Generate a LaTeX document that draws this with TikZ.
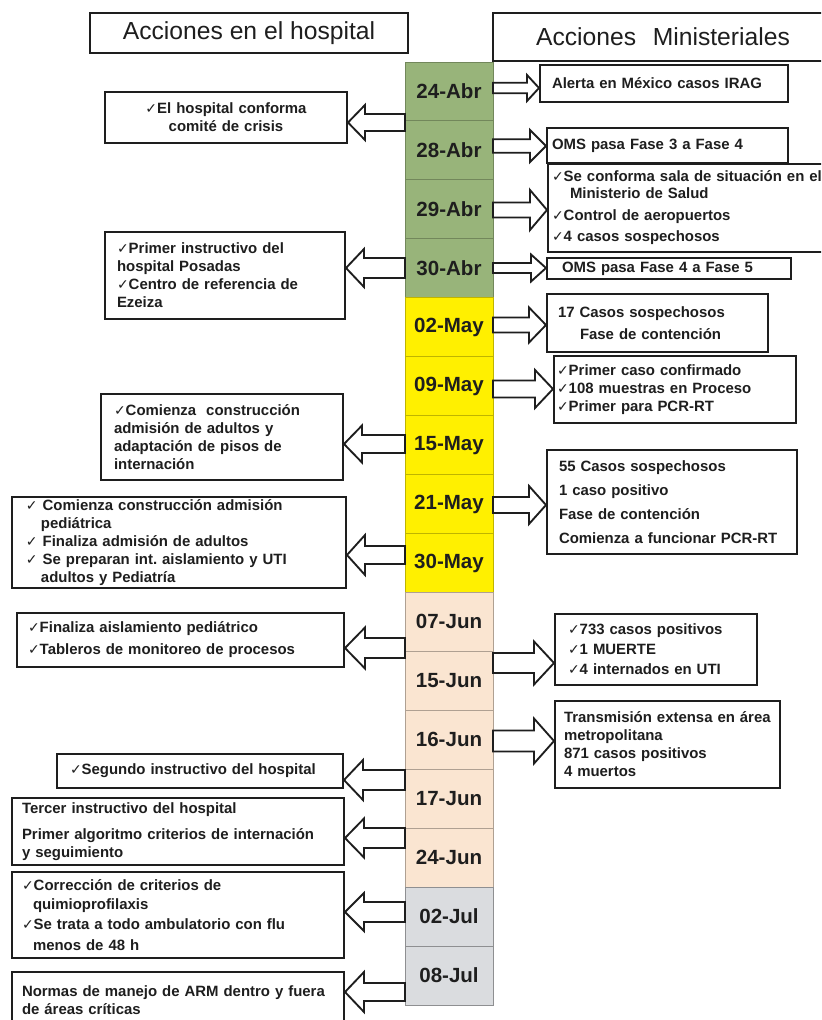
\documentclass[tikz,border=0pt]{standalone}
\usepackage{fontspec}
\setmainfont{Liberation Sans}
\newfontfamily\chkfont{DejaVu Sans}
\usetikzlibrary{calc}

\definecolor{abrgreen}{RGB}{152,180,122}
\definecolor{mayyellow}{RGB}{255,240,0}
\definecolor{junbeige}{RGB}{250,229,209}
\definecolor{julgray}{RGB}{218,220,223}
\definecolor{inkgray}{RGB}{30,30,30}

\newcommand{\ok}{{\chkfont\mdseries\fontsize{10.5}{13.5}\selectfont ✓}}

\begin{document}
\begin{tikzpicture}[x=0.75pt, y=-0.75pt,
 cell/.style={minimum width=66pt, minimum height=44.2pt, inner sep=0pt, outer sep=0pt, line width=0.75pt, text=inkgray, font=\fontsize{15.4}{18}\selectfont\bfseries},
 abril/.style={cell, fill=abrgreen, draw=abrgreen!75!black},
 mayo/.style={cell, fill=mayyellow, draw=mayyellow!75!black},
 junio/.style={cell, fill=junbeige, draw=junbeige!70!black},
 julio/.style={cell, fill=julgray, draw=julgray!65!black},
 head/.style={draw=inkgray, line width=1.5pt, inner sep=0pt, text=inkgray, font=\fontsize{18.5}{22}\selectfont},
 act/.style={draw=inkgray, line width=1.5pt, fill=white, inner ysep=0pt, align=left, text=inkgray, font=\fontsize{11.2}{13.5}\selectfont\bfseries},
 blk/.style n args={3}{draw=inkgray, fill=white, line width=1.4pt, line join=miter, to path={
   ($(\tikztostart)+(0,-#1)$) -- ($(\tikztotarget)!#3*0.75pt!(\tikztostart)+(0,-#1)$)
   -- ($(\tikztotarget)!#3*0.75pt!(\tikztostart)+(0,-#2)$) -- (\tikztotarget)
   -- ($(\tikztotarget)!#3*0.75pt!(\tikztostart)+(0,#2)$) -- ($(\tikztotarget)!#3*0.75pt!(\tikztostart)+(0,#1)$)
   -- ($(\tikztostart)+(0,#1)$) -- cycle}}]
\useasboundingbox (0,0) rectangle (821,1020);
\fill[white] (0,0) rectangle (821,1020);
\clip (0,0) rectangle (821,1020);

\node[head, minimum width=238.5pt, minimum height=30pt] (hosp) at (249,33) {Acciones en el hospital};
\node[head, minimum width=255pt, minimum height=36pt] (mini) at (663,37) {Acciones\hspace{12.5pt}Ministeriales};

\node[abril] (d1) at (449,91.5) {24-Abr};
\node[abril] (d2) at (449,150.4) {28-Abr};
\node[abril] (d3) at (449,209.4) {29-Abr};
\node[abril] (d4) at (449,268.3) {30-Abr};
\node[mayo] (d5) at (449,327.2) {02-May};
\node[mayo] (d6) at (449,386.2) {09-May};
\node[mayo] (d7) at (449,445.1) {15-May};
\node[mayo] (d8) at (449,504.1) {21-May};
\node[mayo] (d9) at (449,563) {30-May};
\node[junio] (d10) at (449,621.9) {07-Jun};
\node[junio] (d11) at (449,680.9) {15-Jun};
\node[junio] (d12) at (449,739.8) {16-Jun};
\node[junio] (d13) at (449,798.8) {17-Jun};
\node[junio] (d14) at (449,857.7) {24-Jun};
\node[julio] (d15) at (449,916.6) {02-Jul};
\node[julio] (d16) at (449,975.6) {08-Jul};

\node[act, align=center, text width=172.5pt, inner xsep=4.5pt, minimum height=38.25pt] (hos1) at (226,117.5) {\ok El hospital conforma\\comité de crisis};
\node[act, text width=162pt, inner xsep=9pt, minimum height=65.25pt] (hos2) at (225,275.5) {\ok Primer instructivo del\\hospital Posadas\\\ok Centro de referencia de\\Ezeiza};
\node[act, text width=162pt, inner xsep=9.75pt, minimum height=64.5pt] (hos3) at (222,437) {\ok Comienza\ \ construcción\\admisión de adultos y\\adaptación de pisos de\\internación};
\node[act, text width=229.5pt, inner xsep=10.5pt, minimum height=68.25pt] (hos4) at (179,542.5) {\ok\ Comienza construcción admisión\\\hspace*{11.25pt}pediátrica\\\ok\ Finaliza admisión de adultos\\\ok\ Se preparan int.\ aislamiento y UTI\\\hspace*{11.25pt}adultos y Pediatría};
\node[act, text width=228.75pt, inner xsep=8.25pt, minimum height=40.5pt] (hos5) at (180.5,640) {\ok Finaliza aislamiento pediátrico\\[3pt]\ok Tableros de monitoreo de procesos};
\node[act, text width=195pt, inner xsep=9.75pt, minimum height=25.5pt] (hos6) at (200,771) {\ok Segundo instructivo del hospital};
\node[act, text width=234pt, inner xsep=7.5pt, minimum height=50.25pt] (hos7) at (178,831.5) {Tercer instructivo del hospital\\[6.5pt]Primer algoritmo criterios de internación\\y seguimiento};
\node[act, text width=234pt, inner xsep=7.5pt, minimum height=64.5pt] (hos8) at (178,915) {\ok Corrección de criterios de\\[1pt]\hspace*{8.25pt}quimioprofilaxis\\[1.5pt]\ok Se trata a todo ambulatorio con flu\\[2pt]\hspace*{8.25pt}menos de 48 h};
\node[act, text width=234pt, inner xsep=7.5pt, minimum height=42pt] (hos9) at (178,1000) {Normas de manejo de ARM dentro y fuera\\de áreas críticas};

\node[act, text width=168pt, inner xsep=9pt, minimum height=27.75pt] (min1) at (664,83.5) {Alerta en México casos IRAG};
\node[act, text width=173.25pt, inner xsep=3.75pt, minimum height=26.25pt] (min2) at (667.5,145.5) {OMS pasa Fase 3 a Fase 4};
\node[act, text width=220.5pt, inner xsep=3pt, minimum height=66pt] (min3) at (699,208) {\ok Se conforma sala de situación en el\\[-1pt]\hspace*{13.5pt}Ministerio de Salud\\[3pt]\ok Control de aeropuertos\\[2.5pt]\ok 4 casos sospechosos};
\node[act, text width=160.5pt, inner xsep=11.25pt, minimum height=15.75pt] (min4) at (669,268.5) {OMS pasa Fase 4 a Fase 5};
\node[act, text width=149.25pt, inner xsep=8.25pt, minimum height=43.5pt] (min5) at (657.5,323) {17 Casos sospechosos\\[3pt]\hspace*{16.5pt}Fase de contención};
\node[act, text width=177pt, inner xsep=2.25pt, minimum height=50.25pt] (min6) at (675,389.5) {\ok Primer caso confirmado\\\ok 108 muestras en Proceso\\\ok Primer para PCR-RT};
\node[act, text width=169.5pt, inner xsep=9pt, minimum height=78pt] (min7) at (672,502) {55 Casos sospechosos\\[4.5pt]1 caso positivo\\[4.5pt]Fase de contención\\[4.5pt]Comienza a funcionar PCR-RT};
\node[act, text width=132pt, inner xsep=9.75pt, minimum height=53.25pt] (min8) at (656,649.5) {\ok 733 casos positivos\\[1.5pt]\ok 1 MUERTE\\[1.5pt]\ok 4 internados en UTI};
\node[act, text width=155.25pt, inner xsep=6.75pt, minimum height=65.25pt] (min9) at (667.5,744.5) {Transmisión extensa en área\\metropolitana\\871 casos positivos\\4 muertos};

\coordinate (ym1) at (449,88);
\coordinate (ym2) at (449,146);
\coordinate (ym3) at (449,210);
\coordinate (ym4) at (449,268);
\coordinate (ym5) at (449,325);
\coordinate (ym6) at (449,389);
\coordinate (ym7) at (449,505);
\coordinate (ym8) at (449,663);
\coordinate (ym9) at (449,741);
\coordinate (yh1) at (449,122.5);
\coordinate (yh2) at (449,268);
\coordinate (yh3) at (449,444);
\coordinate (yh4) at (449,555);
\coordinate (yh5) at (449,648);
\coordinate (yh6) at (449,780);
\coordinate (yh7) at (449,838);
\coordinate (yh8) at (449,912);
\coordinate (yh9) at (449,992);

\draw[blk={5.3}{13}{12}] (d1.east |- ym1) to (min1.west |- ym1);
\draw[blk={6.7}{16}{16}] (d2.east |- ym2) to (min2.west |- ym2);
\draw[blk={7.5}{20}{17}] (d3.east |- ym3) to (min3.west |- ym3);
\draw[blk={5}{13.5}{15}] (d4.east |- ym4) to (min4.west |- ym4);
\draw[blk={7.5}{17.5}{17}] (d5.east |- ym5) to (min5.west |- ym5);
\draw[blk={8.5}{19}{18}] (d6.east |- ym6) to (min6.west |- ym6);
\draw[blk={8}{19}{17}] (d8.east |- ym7) to (min7.west |- ym7);
\draw[blk={10}{21.5}{20}] (d11.east |- ym8) to (min8.west |- ym8);
\draw[blk={10.5}{22.5}{20}] (d12.east |- ym9) to (min9.west |- ym9);

\draw[blk={8.5}{17.5}{17}] (d2.west |- yh1) to (hos1.east |- yh1);
\draw[blk={10}{19}{18}] (d4.west |- yh2) to (hos2.east |- yh2);
\draw[blk={9}{18.5}{18}] (d7.west |- yh3) to (hos3.east |- yh3);
\draw[blk={9}{20}{18}] (d9.west |- yh4) to (hos4.east |- yh4);
\draw[blk={10}{20.5}{20}] (d10.west |- yh5) to (hos5.east |- yh5);
\draw[blk={10}{20}{19}] (d13.west |- yh6) to (hos6.east |- yh6);
\draw[blk={10}{19.5}{19}] (d14.west |- yh7) to (hos7.east |- yh7);
\draw[blk={10}{19}{19}] (d15.west |- yh8) to (hos8.east |- yh8);
\draw[blk={9}{20}{19}] (d16.west |- yh9) to (hos9.east |- yh9);
\end{tikzpicture}
\end{document}
